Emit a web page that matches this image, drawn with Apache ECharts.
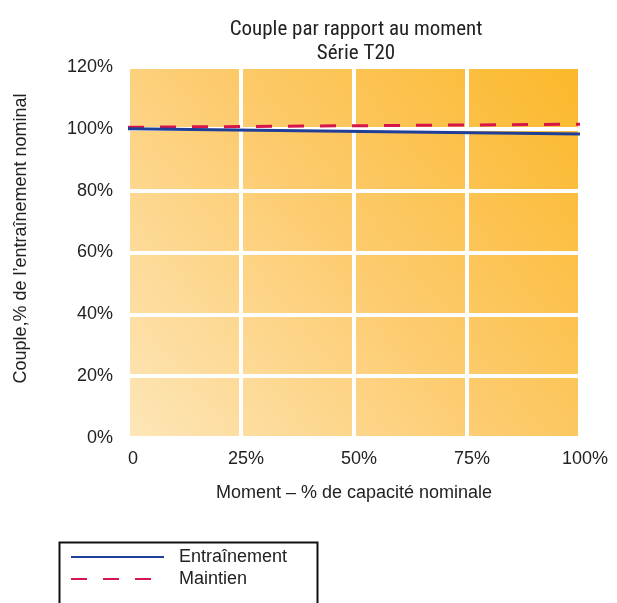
<!DOCTYPE html>
<html>
<head>
<meta charset="utf-8">
<script src="https://cdn.jsdelivr.net/npm/echarts@6/dist/echarts.min.js"></script>
<style>html,body{margin:0;padding:0;background:#fff;}#c{width:617px;height:603px;}</style>
</head>
<body>
<div id="c"></div>
<script>
var xValues = [0, 100];
var entrainement = [100, 98.3];
var maintien = [100.5, 101.5];
var xTicks = ['0', '25%', '50%', '75%', '100%'];
var seriesNames = ['Entraînement', 'Maintien'];

var NARROW = '"Roboto Condensed", "Liberation Sans Narrow", "DejaVu Sans Condensed", sans-serif';
var FONT = '"Liberation Sans", Arial, sans-serif';
var chart = echarts.init(document.getElementById('c'), null, {renderer: 'canvas'});
chart.setOption({
  animation: false,
  title: {
    text: 'Couple par rapport au moment\nSérie T20',
    left: 351, textAlign: 'center', top: 13,
    textStyle: {fontFamily: NARROW, fontSize: 21, fontWeight: 'normal', color: '#222', lineHeight: 24}
  },
  grid: {
    left: 128, right: 37, top: 67, bottom: 165,
    show: true, borderWidth: 0,
    backgroundColor: {
      type: 'linear', x: 0, y: 1, x2: 1, y2: 0,
      colorStops: [
        {offset: 0, color: '#FDE6B8'},
        {offset: 0.5, color: '#FDCB6E'},
        {offset: 1, color: '#FBB82A'}
      ]
    }
  },
  xAxis: {
    type: 'value', min: 0, max: 100, interval: 25,
    name: 'Moment – % de capacité nominale', nameLocation: 'middle', nameGap: 46,
    nameTextStyle: {fontFamily: FONT, fontSize: 18, color: '#222'},
    axisLine: {show: false}, axisTick: {show: false},
    axisLabel: {fontFamily: FONT, fontSize: 18, color: '#222', margin: 12, padding: [0, 0, 0, 10],
      formatter: function (v) { return xTicks[Math.round(v / 25)]; }},
    splitLine: {show: true, lineStyle: {color: '#ffffff', width: 4}}
  },
  yAxis: {
    type: 'value', min: 0, max: 120, interval: 20,
    name: 'Couple,% de l’entraînement nominal', nameLocation: 'middle', nameGap: 98,
    nameTextStyle: {fontFamily: FONT, fontSize: 18, color: '#222', padding: [0, 0, 0, 28]},
    axisLine: {show: false}, axisTick: {show: false},
    axisLabel: {fontFamily: FONT, fontSize: 18, color: '#222', margin: 15,
      formatter: function (v) { return v + '%'; }},
    splitLine: {show: true, lineStyle: {color: '#ffffff', width: 4}}
  },
  legend: {
    orient: 'vertical', left: 57, top: 540,
    data: seriesNames,
    itemWidth: 93, itemHeight: 14, itemGap: 4,
    padding: [8, 30, 4, 13],
    itemStyle: {color: 'rgba(0,0,0,0)', borderWidth: 0},
    textStyle: {fontFamily: FONT, fontSize: 18, color: '#222', padding: [0, 0, 0, 10]}
  },
  graphic: [{
    type: 'rect', left: 57, top: 540, silent: true,
    shape: {width: 258, height: 80},
    style: {fill: 'none', stroke: '#111', lineWidth: 2}
  }],
  series: [
    {
      name: seriesNames[0], type: 'line', symbol: 'none',
      data: xValues.map(function (x, i) { return [x, entrainement[i]]; }),
      lineStyle: {color: '#1F3F99', width: 3}, itemStyle: {color: '#1F3F99'}, z: 3
    },
    {
      name: seriesNames[1], type: 'line', symbol: 'none',
      data: xValues.map(function (x, i) { return [x, maintien[i]]; }),
      lineStyle: {color: '#D6164A', width: 3, type: [16, 16]}, itemStyle: {color: '#D6164A'}, z: 2
    }
  ]
});
</script>
</body>
</html>
